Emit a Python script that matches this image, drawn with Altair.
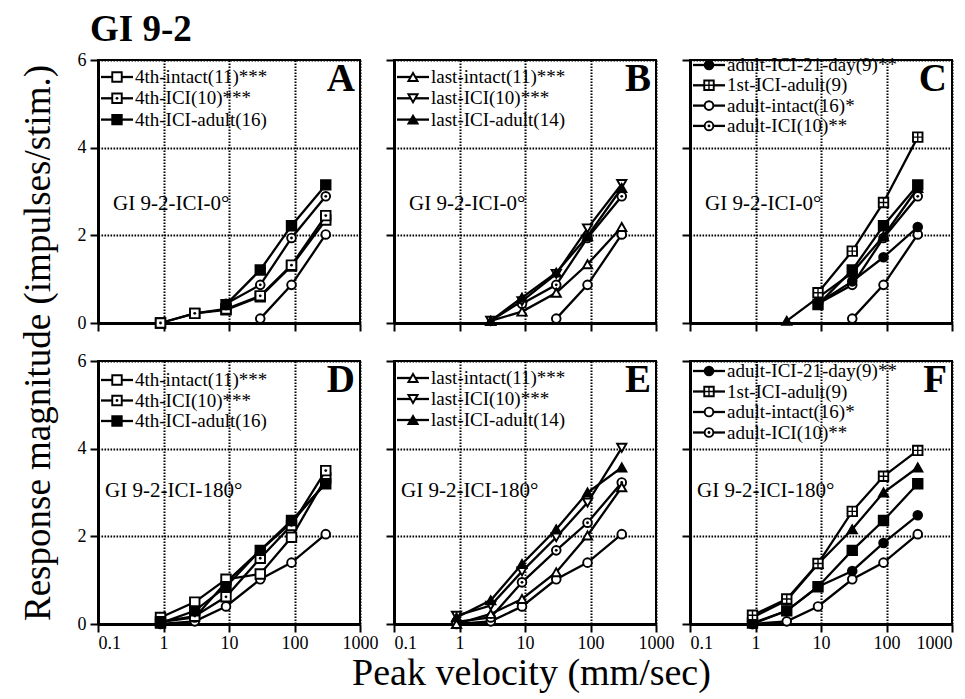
import math
import altair as alt
import pandas as pd

FONT = "Liberation Serif, Times New Roman, Times, serif"

# ---------------- data ----------------
VEL = [0.9, 3, 9, 30, 90, 300]  # peak velocity (mm/sec)

# GI 9-2-ICI-0 deg (top row)
ADULT_INTACT_0 = [None, None, None, 0.10, 0.87, 2.02]
ADULT_ICI_0 = [None, None, 0.44, 0.87, 1.94, 2.89]
FOURTH_INTACT_0 = [0.00, 0.22, 0.30, 0.60, 1.30, 2.35]
FOURTH_ICI_0 = [0.00, 0.22, 0.32, 0.62, 1.32, 2.45]
FOURTH_ADULT_0 = [None, None, 0.42, 1.21, 2.22, 3.15]
LAST_INTACT_0 = [None, 0.05, 0.26, 0.69, 1.34, 2.19]
LAST_ICI_0 = [None, 0.05, 0.50, 1.12, 2.16, 3.17]
LAST_ADULT_0 = [None, 0.05, 0.58, 1.15, 1.98, 3.08]
ADULT_21DAY_0 = [None, None, 0.45, 0.95, 1.50, 2.19]
FIRST_ADULT_0 = [None, None, 0.69, 1.64, 2.75, 4.24]

# GI 9-2-ICI-180 deg (bottom row)
ADULT_INTACT_180 = [0.00, 0.06, 0.40, 1.02, 1.40, 2.05]
ADULT_ICI_180 = [0.05, 0.15, 0.95, 1.68, 2.31, 3.23]
FOURTH_INTACT_180 = [0.15, 0.50, 1.02, 1.14, 1.98, 3.33]
FOURTH_ICI_180 = [0.05, 0.18, 0.62, 1.50, 2.25, 3.50]
FOURTH_ADULT_180 = [0.02, 0.30, 0.85, 1.68, 2.36, 3.20]
LAST_INTACT_180 = [0.00, 0.23, 0.57, 1.18, 2.02, 3.12]
LAST_ICI_180 = [0.19, 0.42, 1.20, 1.98, 2.77, 4.02]
LAST_ADULT_180 = [0.15, 0.54, 1.37, 2.16, 3.00, 3.57]
ADULT_21DAY_180 = [0.00, 0.30, 0.85, 1.21, 1.85, 2.48]
FIRST_ADULT_180 = [0.20, 0.57, 1.38, 2.57, 3.37, 3.96]

FIGURE_TITLE = "GI 9-2"
X_TITLE = "Peak velocity (mm/sec)"
Y_TITLE = "Response magnitude (impulses/stim.)"
X_TICKS = [0.1, 1, 10, 100, 1000]
Y_TICKS = [0, 2, 4, 6]

LEG_4TH = [("4th-intact(11)***", "sq_open"), ("4th-ICI(10)***", "sq_dot"),
           ("4th-ICI-adult(16)", "sq_fill")]
LEG_LAST = [("last-intact(11)***", "tri_up_open"), ("last-ICI(10)***", "tri_down_open"),
            ("last-ICI-adult(14)", "tri_up_fill")]
LEG_ADULT = [("adult-ICI-21-day(9)**", "circ_fill"), ("1st-ICI-adult(9)", "sq_plus"),
             ("adult-intact(16)*", "circ_open"), ("adult-ICI(10)**", "circ_dot")]

PANELS = [
    dict(letter="A", cond="GI 9-2-ICI-0°", legend=LEG_4TH, leg=(17, 21.3), series=[
        (ADULT_INTACT_0, "circ_open"), (ADULT_ICI_0, "circ_dot"),
        (FOURTH_INTACT_0, "sq_open"), (FOURTH_ICI_0, "sq_dot"), (FOURTH_ADULT_0, "sq_fill")]),
    dict(letter="B", cond="GI 9-2-ICI-0°", legend=LEG_LAST, leg=(17, 21.3), series=[
        (ADULT_INTACT_0, "circ_open"), (ADULT_ICI_0, "circ_dot"),
        (LAST_INTACT_0, "tri_up_open"), (LAST_ICI_0, "tri_down_open"), (LAST_ADULT_0, "tri_up_fill")]),
    dict(letter="C", cond="GI 9-2-ICI-0°", legend=LEG_ADULT, leg=(5, 20.3), series=[
        (ADULT_INTACT_0, "circ_open"), (ADULT_ICI_0, "circ_dot"), (LAST_ADULT_0, "tri_up_fill"),
        (ADULT_21DAY_0, "circ_fill"), (FOURTH_ADULT_0, "sq_fill"), (FIRST_ADULT_0, "sq_plus")]),
    dict(letter="D", cond="GI 9-2-ICI-180°", legend=LEG_4TH, leg=(19, 20.5), series=[
        (ADULT_INTACT_180, "circ_open"), (ADULT_ICI_180, "circ_dot"),
        (FOURTH_INTACT_180, "sq_open"), (FOURTH_ICI_180, "sq_dot"), (FOURTH_ADULT_180, "sq_fill")]),
    dict(letter="E", cond="GI 9-2-ICI-180°", legend=LEG_LAST, leg=(17, 21), series=[
        (ADULT_INTACT_180, "circ_open"), (ADULT_ICI_180, "circ_dot"),
        (LAST_INTACT_180, "tri_up_open"), (LAST_ICI_180, "tri_down_open"), (LAST_ADULT_180, "tri_up_fill")]),
    dict(letter="F", cond="GI 9-2-ICI-180°", legend=LEG_ADULT, leg=(10, 20.5), series=[
        (ADULT_INTACT_180, "circ_open"), (ADULT_21DAY_180, "circ_fill"), (FOURTH_ADULT_180, "sq_fill"),
        (LAST_ADULT_180, "tri_up_fill"), (FIRST_ADULT_180, "sq_plus")]),
]

# ---------------- layout helpers ----------------
W, H = 262, 263
XMIN, XMAX = 0.1, 1000
YMIN, YMAX = 0, 6
xscale = alt.Scale(type="log", domain=[XMIN, XMAX], nice=False)
yscale = alt.Scale(domain=[YMIN, YMAX], nice=False, zero=False)


def xd(px):
    lo, hi = math.log10(XMIN), math.log10(XMAX)
    return 10 ** (lo + px / W * (hi - lo))


def yd(px):
    return YMAX - px / H * (YMAX - YMIN)


STYLE = {
    "sq_open": dict(shape="square", fill="white", size=90),
    "sq_dot": dict(shape="square", fill="white", size=90, inner="dot"),
    "sq_fill": dict(shape="square", fill="black", size=90),
    "sq_plus": dict(shape="square", fill="white", size=90, inner="plus"),
    "tri_up_open": dict(shape="triangle-up", fill="white", size=85),
    "tri_down_open": dict(shape="triangle-down", fill="white", size=85),
    "tri_up_fill": dict(shape="triangle-up", fill="black", size=85),
    "circ_open": dict(shape="circle", fill="white", size=75),
    "circ_dot": dict(shape="circle", fill="white", size=75, inner="dot"),
    "circ_fill": dict(shape="circle", fill="black", size=75),
}

GRID = dict(grid=True, gridDash=[1.6, 1.4], gridWidth=2, gridColor="black",
            tickSize=8, tickWidth=2, tickColor="black", domainWidth=3, domainColor="black",
            labelFontSize=18, labelColor="black", labelFont=FONT)


def x_axis(bottom, last_col, title=None):
    kw = dict(values=X_TICKS, format="~g", labels=bottom, labelPadding=2, **GRID)
    if last_col:
        kw["labelFlush"] = True
    else:
        kw["labelFlush"] = False
        kw["labelAlign"] = {"condition": {"test": "datum.value < 0.5", "value": "left"},
                            "value": "center"}
    if title:
        kw.update(title=title, titleFontSize=38, titleFontWeight="normal", titleFont=FONT,
                  titleBaseline="alphabetic", titleAlign="center",
                  titleX=W / 2 + 6, titleY=60, titleColor="black")
    else:
        kw["title"] = ""
    return alt.Axis(**kw)


def y_axis(left, title=None):
    kw = dict(values=Y_TICKS, labels=left, labelPadding=4, **GRID)
    if title:
        kw.update(title=title, titleFontSize=37, titleFontWeight="normal", titleFont=FONT,
                  titleBaseline="alphabetic", titleAlign="center", titleAngle=270,
                  titleX=-49, titleY=282.5, titleColor="black")
    else:
        kw["title"] = ""
    return alt.Axis(**kw)


def panel(p, idx):
    row, col = divmod(idx, 3)
    X = alt.X("x:Q", scale=xscale,
              axis=x_axis(row == 1, col == 2, X_TITLE if idx == 4 else None))
    Y = alt.Y("y:Q", scale=yscale,
              axis=y_axis(col == 0, Y_TITLE if idx == 0 else None))

    def markers(df, style):
        st = STYLE[style]
        out = [alt.Chart(df).mark_point(shape=st["shape"], filled=True, fill=st["fill"],
                                        stroke="black", strokeWidth=1.9, size=st["size"],
                                        opacity=1).encode(x=X, y=Y)]
        if st.get("inner") == "dot":
            out.append(alt.Chart(df).mark_point(shape="circle", filled=True, color="black",
                                                size=8, opacity=1).encode(x=X, y=Y))
        if st.get("inner") == "plus":
            out.append(alt.Chart(df).mark_point(shape="M-1,0L1,0M0,-1L0,1", filled=False,
                                                stroke="black", strokeWidth=1.4,
                                                size=st["size"], opacity=1).encode(x=X, y=Y))
        return out

    layers = []
    for values, style in p["series"]:
        df = pd.DataFrame({"x": VEL, "y": values}).dropna()
        layers.append(alt.Chart(df).mark_line(color="black", strokeWidth=2.3).encode(x=X, y=Y))
        layers += markers(df, style)

    # in-panel legend
    y0, step = p["leg"]
    for i, (label, style) in enumerate(p["legend"]):
        ly = yd(y0 + i * step)
        rdf = pd.DataFrame({"x": [xd(3)], "x2": [xd(35)], "y": [ly]})
        layers.append(alt.Chart(rdf).mark_rule(color="black", strokeWidth=2.3).encode(
            x=X, x2="x2:Q", y=Y))
        layers += markers(pd.DataFrame({"x": [xd(19)], "y": [ly]}), style)
        tdf = pd.DataFrame({"x": [xd(37)], "y": [ly], "t": [label]})
        layers.append(alt.Chart(tdf).mark_text(align="left", baseline="middle", font=FONT,
                                               fontSize=19, color="black").encode(
            x=X, y=Y, text="t:N"))

    # panel letter and condition label
    tdf = pd.DataFrame({"x": [xd(257)], "y": [yd(31)], "t": [p["letter"]]})
    layers.append(alt.Chart(tdf).mark_text(align="right", baseline="alphabetic", font=FONT,
                                           fontSize=39, fontWeight="bold", color="black").encode(
        x=X, y=Y, text="t:N"))
    cx, cy = (15, 150) if row == 0 else (7, 136)
    cdf = pd.DataFrame({"x": [xd(cx)], "y": [yd(cy)], "t": [p["cond"]]})
    layers.append(alt.Chart(cdf).mark_text(align="left", baseline="alphabetic", font=FONT,
                                           fontSize=21, color="black").encode(
        x=X, y=Y, text="t:N"))

    if idx == 0:
        fdf = pd.DataFrame({"x": [xd(-8)], "y": [yd(-19)], "t": [FIGURE_TITLE]})
        layers.append(alt.Chart(fdf).mark_text(align="left", baseline="alphabetic", font=FONT,
                                               fontSize=37, fontWeight="bold", color="black").encode(
            x=X, y=Y, text="t:N"))
    return alt.layer(*layers).properties(width=W, height=H)


charts = [panel(p, i) for i, p in enumerate(PANELS)]
chart = (alt.concat(*charts, columns=3, spacing={"row": 38, "column": 34}, bounds="flush")
         .properties(padding={"left": 9, "top": 2, "right": 0, "bottom": 0})
         .configure(font=FONT)
         .configure_view(stroke="black", strokeWidth=2))

chart.save("out.html", embed_options={"renderer": "svg", "actions": False})
